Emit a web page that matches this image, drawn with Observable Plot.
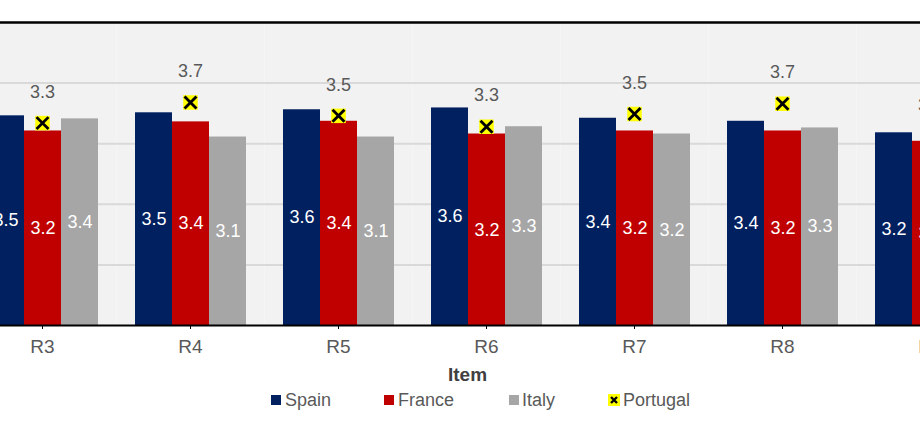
<!DOCTYPE html>
<html>
<head>
<meta charset="utf-8">
<script src="https://cdn.jsdelivr.net/npm/d3@7"></script>
<script src="https://cdn.jsdelivr.net/npm/@observablehq/plot@0.6"></script>
<style>
  html, body { margin: 0; padding: 0; background: #fff; overflow: hidden; width: 920px; height: 425px; }
  #wrap { position: relative; width: 920px; height: 425px; overflow: hidden; font-family: Arial, "Liberation Sans", sans-serif; }
  #chart { position: absolute; left: -32px; top: 0; width: 1036px; height: 360px; }
  #chart svg { max-width: none !important; display: block; }
  #xlabel { position: absolute; left: 467.5px; top: 365px; transform: translateX(-50%); font-weight: bold; font-size: 19px; line-height: 19px; color: #404040; white-space: nowrap; }
  .leg { position: absolute; top: 391px; font-size: 18px; line-height: 18px; color: #595959; white-space: nowrap; }
  .sw { position: absolute; top: 395px; width: 10px; height: 10px; }
</style>
</head>
<body>
<div id="wrap">
  <div id="chart"></div>
  <div id="xlabel">Item</div>
  <div id="legend"></div>
</div>
<script>
// ---- data ----
const items = ["R3", "R4", "R5", "R6", "R7", "R8", "R9"];
const countries = ["Spain", "France", "Italy"];
const spain    = [3.46, 3.51, 3.56, 3.59, 3.42, 3.37, 3.18];
const france   = [3.21, 3.36, 3.37, 3.16, 3.21, 3.21, 3.04];
const italy    = [3.41, 3.11, 3.11, 3.28, 3.16, 3.26, 3.10];
const portugal = [3.34, 3.68, 3.46, 3.28, 3.49, 3.66, 3.12];
const barColors = ["#002060", "#C00000", "#A6A6A6"];
const portugalColor = "#FFFF00";
const gridValues = [1, 2, 3, 4];
const yDomain = [0, 5];

// ---- tables built from the arrays ----
const seriesValues = [spain, france, italy];
const bars = [];
items.forEach((item, i) => {
  countries.forEach((c, j) => bars.push({item, country: c, value: seriesValues[j][i]}));
});
const pts = items.map((item, i) => ({item, value: portugal[i]}));
const fmt = d3.format(".1f");

const chart = Plot.plot({
  width: 148 * items.length,
  height: 360,
  marginTop: 22,
  marginBottom: 35,
  marginLeft: 0,
  marginRight: 0,
  style: {fontFamily: 'Arial, "Liberation Sans", sans-serif', background: "transparent", maxWidth: "none"},
  fx: {domain: items, padding: 0, axis: null, label: null},
  x: {domain: countries, paddingInner: 0, paddingOuter: 0.5, axis: null},
  y: {domain: yDomain, axis: null},
  color: {domain: countries, range: barColors},
  marks: [
    Plot.frame({fill: "#F2F2F2", stroke: null}),
    Plot.ruleY(gridValues, {stroke: "#D9D9D9", strokeWidth: 2}),
    Plot.ruleY([yDomain[1]], {stroke: "#000", strokeWidth: 2.5}),
    Plot.barY(bars, {fx: "item", x: "country", y: "value", fill: "country"}),
    Plot.ruleY([yDomain[0]], {stroke: "#000", strokeWidth: 2}),
    Plot.text(bars, {fx: "item", x: "country", y: d => d.value / 2, text: d => fmt(d.value), fill: "#FFFFFF", fontSize: 18}),
    Plot.dot(pts, {fx: "item", y: "value", symbol: "square", fill: portugalColor, r: 8.2}),
    Plot.dot(pts, {fx: "item", y: "value", symbol: "times", stroke: "#000", strokeWidth: 2.8, r: 5.5}),
    Plot.text(pts, {fx: "item", y: "value", dy: -31, text: d => fmt(d.value), fill: "#595959", fontSize: 18}),
    Plot.axisFx({anchor: "bottom", tickSize: 4, tickPadding: 10, fontSize: 19, fill: "#595959", stroke: "#000", label: null})
  ]
});
document.getElementById("chart").appendChild(chart);

// ---- legend (HTML) ----
const legendNames = [...countries, "Portugal"];
const swLeft = [271, 384, 509, 608];
const txtLeft = [285, 398, 522, 623];
const legend = document.getElementById("legend");
legendNames.forEach((name, i) => {
  if (i < 3) {
    const sw = document.createElement("div");
    sw.className = "sw";
    sw.style.left = swLeft[i] + "px";
    sw.style.background = barColors[i];
    legend.appendChild(sw);
  } else {
    const ns = "http://www.w3.org/2000/svg";
    const s = document.createElementNS(ns, "svg");
    s.setAttribute("width", 12); s.setAttribute("height", 12);
    s.style.position = "absolute"; s.style.left = swLeft[i] + "px"; s.style.top = "394px";
    s.innerHTML = `<rect x="0" y="0" width="12" height="12" fill="${portugalColor}"/><path d="M3,3L9,9M9,3L3,9" stroke="#000" stroke-width="2.4"/>`;
    legend.appendChild(s);
  }
  const t = document.createElement("div");
  t.className = "leg";
  t.style.left = txtLeft[i] + "px";
  t.textContent = name;
  legend.appendChild(t);
});
</script>
</body>
</html>
